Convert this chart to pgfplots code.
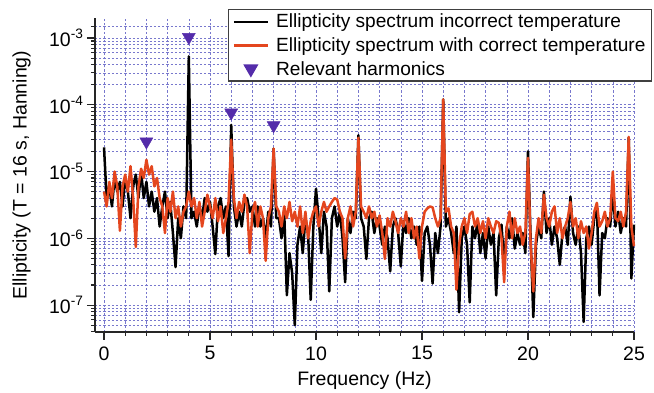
\documentclass[border=0pt]{standalone}
\usepackage{pgfplots}
\usepackage{pgfplotstable}
\pgfplotsset{compat=1.18}
\usepackage{fontspec}
\setmainfont{Liberation Sans}
\definecolor{ored}{RGB}{228,70,30}
\definecolor{mpurple}{RGB}{84,44,170}
\definecolor{gridc}{RGB}{120,120,205}
\pgfplotsset{
  lineleg/.style={legend image code/.code={\draw[##1] (0pt,0pt) -- (34pt,0pt);}},
  markleg/.style={legend image code/.code={\draw[##1] plot coordinates {(17pt,0pt)};}},
}
\pgfplotstableread{
f b o
0 2.3e-5 5e-6
0.125 4e-6 3e-6
0.25 6e-6 7e-6
0.375 3e-6 4e-6
0.5 8e-6 1e-5
0.625 5e-6 6e-6
0.75 7e-6 1.3e-6
0.875 3e-6 6e-6
1 8e-6 9e-6
1.125 5e-6 5e-6
1.25 2e-6 1.2e-5
1.375 6e-6 4e-6
1.5 9e-6 7.4e-7
1.625 4e-6 6e-6
1.75 1e-5 1.1e-5
1.875 4e-6 8e-6
2 7e-6 1.5e-5
2.125 3e-6 9e-6
2.25 5e-6 1.2e-5
2.375 2.5e-6 6e-6
2.5 4e-6 8e-6
2.625 1.5e-6 4e-6
2.75 3e-6 3e-6
2.875 5e-6 1.2e-6
3 2e-6 4e-6
3.125 3.5e-6 2.5e-6
3.25 1.2e-6 5e-6
3.375 3.7e-7 2e-6
3.5 2e-6 3e-6
3.625 1e-6 1.5e-6
3.75 3e-6 2.5e-6
3.875 2e-6 3e-6
4 5.3e-4 5e-6
4.125 2e-6 3e-6
4.25 2.5e-6 4e-6
4.375 1.5e-6 2e-6
4.5 3e-6 3.5e-6
4.625 2e-6 1.5e-6
4.75 4e-6 2.5e-6
4.875 2.5e-6 4.5e-6
5 3.5e-6 3e-6
5.125 1.5e-6 2e-6
5.25 5.8e-7 4e-6
5.375 3e-6 1.8e-6
5.5 4e-6 3e-6
5.625 2e-6 1.2e-6
5.75 3e-6 2e-6
5.875 5.4e-7 3.5e-6
6 5e-5 3e-5
6.125 3e-6 4e-6
6.25 1.5e-6 2e-6
6.375 2.5e-6 3.5e-6
6.5 1.5e-6 2.5e-6
6.625 3.5e-6 4.5e-6
6.75 4e-6 3e-6
6.875 2.5e-6 6e-7
7 3e-6 2.5e-6
7.125 1.5e-6 3.5e-6
7.25 3e-6 1.5e-6
7.375 1.5e-6 3e-6
7.5 2e-6 2e-6
7.625 1e-6 4.6e-7
7.75 2.5e-6 2e-6
7.875 1.5e-6 3e-6
8 2.2e-5 2.2e-5
8.125 2e-6 3e-6
8.25 2e-6 2.5e-6
8.375 1e-6 1.5e-6
8.5 2.5e-6 3e-6
8.625 1.4e-7 2e-6
8.75 6e-7 3.5e-6
8.875 3e-7 1.8e-6
9 5e-8 2.5e-6
9.125 8e-7 1.5e-6
9.25 1.5e-6 3e-6
9.375 6e-7 1.2e-6
9.5 2e-6 2.5e-6
9.625 1.2e-6 1e-6
9.75 1.2e-7 1.8e-6
9.875 1.5e-6 2.5e-6
10 5.5e-6 3e-6
10.125 2e-6 1.5e-6
10.25 6e-7 2.5e-6
10.375 2.5e-6 3.5e-6
10.5 1.5e-6 2.5e-6
10.625 1.6e-7 3e-6
10.75 2e-6 3.5e-6
10.875 3e-6 4e-6
11 1.5e-6 3.8e-6
11.125 2.5e-6 2.5e-6
11.25 1e-6 2e-6
11.375 2.2e-7 5e-7
11.5 2e-6 2e-6
11.625 1.2e-6 3e-6
11.75 2.5e-6 1.5e-6
11.875 2e-6 2.5e-6
12 3.5e-5 3.2e-5
12.125 2e-6 3e-6
12.25 1.5e-6 2.5e-6
12.375 4.9e-7 2e-6
12.5 2e-6 3e-6
12.625 2.5e-6 2e-6
12.75 1.2e-6 2.5e-6
12.875 2e-6 1.5e-6
13 1.5e-6 2.2e-6
13.125 8e-7 1.2e-6
13.25 1.5e-6 4.9e-7
13.375 1e-6 2e-6
13.5 3.2e-7 1.5e-6
13.625 1.5e-6 2.5e-6
13.75 2e-6 1.8e-6
13.875 1.2e-6 1.2e-6
14 3.8e-7 2e-6
14.125 1.8e-6 1.5e-6
14.25 1.2e-6 2.5e-6
14.375 2e-6 1.2e-6
14.5 1e-6 2e-6
14.625 1.5e-6 1e-6
14.75 8e-7 1.5e-6
14.875 1.5e-6 5e-7
15 2.3e-7 1.5e-6
15.125 1.2e-6 2.5e-6
15.25 1.5e-6 2.8e-6
15.375 8e-7 3e-6
15.5 2.1e-7 2.9e-6
15.625 1.2e-6 2e-6
15.75 6e-7 1.5e-6
15.875 1.5e-6 2e-6
16 1.2e-4 1.2e-4
16.125 1.5e-6 2.5e-6
16.25 2e-6 2.8e-6
16.375 1.2e-6 1.5e-6
16.5 6e-7 1.2e-6
16.625 1.5e-6 1.7e-7
16.75 7.8e-8 8e-7
16.875 1e-6 1.5e-6
17 1.5e-6 2e-6
17.125 8e-7 1.2e-6
17.25 1.1e-7 2.3e-6
17.375 1.5e-6 2.5e-6
17.5 1e-6 1.5e-6
17.625 1.8e-6 2e-6
17.75 6e-7 1.2e-6
17.875 1.2e-6 1.8e-6
18 5e-7 1e-6
18.125 1.5e-6 2e-6
18.25 8e-7 1.5e-6
18.375 1.2e-6 1.2e-6
18.5 1.4e-7 1.8e-6
18.625 1e-6 1.7e-6
18.75 1.6e-6 1e-6
18.875 4e-7 2.2e-7
19 1.5e-6 1.5e-6
19.125 1e-6 2.5e-6
19.25 2e-6 1e-6
19.375 7e-7 2e-6
19.5 1.2e-6 1.2e-6
19.625 8e-7 1.5e-6
19.75 1.2e-6 8e-7
19.875 6e-7 1.2e-6
20 2e-5 1.6e-5
20.125 1e-6 8e-7
20.25 6.6e-8 1.6e-7
20.375 8e-7 1e-6
20.5 1.5e-6 2e-6
20.625 1e-6 1.2e-6
20.75 5e-6 4.5e-6
20.875 1.2e-6 2e-6
21 2e-6 1.5e-6
21.125 8e-7 2.5e-6
21.25 1.5e-6 3e-6
21.375 1e-6 1.2e-6
21.5 4e-7 2e-6
21.625 1.2e-6 1e-6
21.75 1.5e-6 1.5e-6
21.875 8e-7 2e-6
22 4.2e-6 3.5e-6
22.125 1.2e-6 1.5e-6
22.25 8e-7 2e-6
22.375 1.5e-6 1e-6
22.5 6e-7 1.8e-6
22.625 5.6e-8 1.2e-6
22.75 1e-6 1.5e-6
22.875 1.5e-6 7e-7
23 8e-7 1.2e-6
23.125 2e-6 2.5e-6
23.25 3e-6 3.4e-6
23.375 1.4e-7 1.5e-6
23.5 1.2e-6 1.8e-6
23.625 1e-6 2.5e-6
23.75 2e-6 1.5e-6
23.875 1.5e-6 2e-6
24 5e-6 1e-5
24.125 1.5e-6 2e-6
24.25 2.5e-6 1.8e-6
24.375 1.2e-6 2.5e-6
24.5 2e-6 1.5e-6
24.625 1.5e-6 2.5e-6
24.75 3.2e-5 3.3e-5
24.875 2.5e-7 1.5e-6
25 1.6e-6 7.6e-7
}\spectrum
\begin{document}
\begin{tikzpicture}
\begin{axis}[
  at={(0pt,0pt)}, anchor=south west,
  scale only axis, width=539pt, height=314pt,
  ymode=log, log basis y=10,
  xmin=-0.425, xmax=25, ymin=3.95e-8, ymax=1.99e-3,
  axis x line*=bottom, axis y line*=left,
  axis line style={-, line width=1.2pt, black!85},
  tick align=outside,
  major tick length=8pt, minor tick length=4pt,
  every tick/.style={black!85, line width=1.1pt},
  xtick={0,5,10,15,20,25},
  minor xtick={0,1,...,25},
  every minor tick/.append style={black!85, line width=1.1pt},
  ytick={1e-7,1e-6,1e-5,1e-4,1e-3},
  minor ytick={4e-8,5e-8,6e-8,7e-8,8e-8,9e-8,
    2e-7,3e-7,4e-7,5e-7,6e-7,7e-7,8e-7,9e-7,
    2e-6,3e-6,4e-6,5e-6,6e-6,7e-6,8e-6,9e-6,
    2e-5,3e-5,4e-5,5e-5,6e-5,7e-5,8e-5,9e-5,
    2e-4,3e-4,4e-4,5e-4,6e-4,7e-4,8e-4,9e-4,1.5e-3},
  yticklabels={10\textsuperscript{-7},10\textsuperscript{-6},10\textsuperscript{-5},10\textsuperscript{-4},10\textsuperscript{-3}},
  /pgf/number format/assume math mode=true,
  xmajorgrids, xminorgrids, ymajorgrids, yminorgrids,
  major grid style={gridc, dash pattern=on 2.2pt off 2pt, line width=0.6pt},
  minor grid style={gridc, dash pattern=on 2.2pt off 2pt, line width=0.6pt},
  tick label style={font=\fontsize{19.5}{22}\selectfont},
  xticklabel style={yshift=-3pt},
  label style={font=\fontsize{19.5}{22}\selectfont},
  xlabel={Frequency (Hz)},
  ylabel={Ellipticity (T = 16 s, Hanning)},
  xlabel style={at={(axis description cs:0.5,-0.153)}, anchor=center},
  ylabel style={at={(axis description cs:-0.136,0.5)}, anchor=center},
  legend style={at={(axis description cs:0.2468,1.0287)}, anchor=north west,
    draw=black!75, line width=1.2pt, fill=white,
    font=\fontsize{19.1}{22}\selectfont, inner xsep=4pt, inner ysep=2.5pt,
    row sep=4.2pt,
    /tikz/every odd column/.append style={column sep=5pt}},
  legend cell align=left,
  clip=false,
]
\addplot[black, line width=2.5pt, line join=round, lineleg]
  table[x=f, y=b] {\spectrum};
\addlegendentry{Ellipticity spectrum incorrect temperature}
\addplot[ored, line width=2.5pt, line join=round, lineleg]
  table[x=f, y=o] {\spectrum};
\addlegendentry{Ellipticity spectrum with correct temperature}
\addplot[only marks, mark=triangle*, mark size=7.5pt,
  mark options={rotate=180, fill=mpurple, draw=mpurple}, markleg]
  coordinates {(2,2.8e-5) (4,1.03e-3) (6,7.6e-5) (8,4.9e-5)};
\addlegendentry{Relevant harmonics}
\end{axis}
\pgfresetboundingbox
\path[use as bounding box] (-95pt,-60pt) rectangle (559pt,332pt);
\end{tikzpicture}
\end{document}
